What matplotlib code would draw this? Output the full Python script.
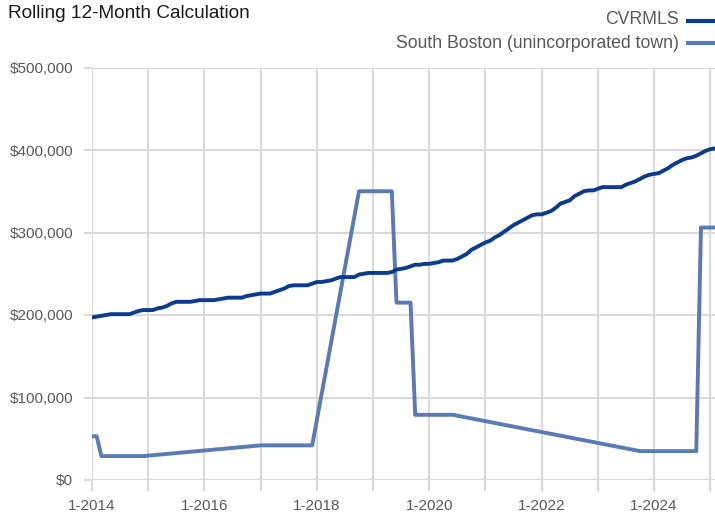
import matplotlib
matplotlib.use("Agg")
import matplotlib.pyplot as plt
from matplotlib.lines import Line2D
from matplotlib.ticker import FuncFormatter, MultipleLocator

plt.rcParams['font.family'] = ['Liberation Sans', 'DejaVu Sans']

title = "Rolling 12-Month Calculation"
series_names = ["CVRMLS", "South Boston (unincorporated town)"]
start_year = 2014

# CVRMLS monthly values (thousands $), Jan 2014 .. Feb 2025
cvrmls = [
    197, 198, 199, 200, 201, 201, 201, 201, 201, 203, 205, 206,   # 2014
    206, 206, 208, 209, 211, 214, 216, 216, 216, 216, 217, 218,   # 2015
    218, 218, 218, 219, 220, 221, 221, 221, 221, 223, 224, 225,   # 2016
    226, 226, 226, 228, 230, 232, 235, 236, 236, 236, 236, 238,   # 2017
    240, 240, 241, 242, 244, 246, 246, 246, 246, 249, 250, 251,   # 2018
    251, 251, 251, 251, 252, 255, 256, 257, 259, 261, 261, 262,   # 2019
    262, 263, 264, 266, 266, 266, 268, 271, 274, 279, 282, 285,   # 2020
    288, 290, 294, 297, 301, 305, 309, 312, 315, 318, 321, 322,   # 2021
    322, 324, 326, 330, 335, 337, 339, 344, 347, 350, 351, 351,   # 2022
    353, 355, 355, 355, 355, 355, 358, 360, 362, 365, 368, 370,   # 2023
    371, 372, 375, 378, 382, 385, 388, 390, 391, 393, 396, 399,   # 2024
    401, 402,                                                     # 2025
]

# South Boston: months with reported values (YYYY-MM, thousands $)
sb_dates = ["2014-01", "2014-02", "2014-03", "2014-12", "2017-01", "2017-12",
            "2018-10", "2019-05", "2019-06", "2019-09", "2019-10", "2020-06",
            "2023-10", "2024-10", "2024-11", "2025-02"]
sb_values = [53, 53, 29, 29, 42, 42,
             350, 350, 215, 215, 79, 79,
             35, 35, 306, 306]

def month_index(s):
    y, m = s.split("-")
    return (int(y) - start_year) * 12 + int(m) - 1

cv_x = list(range(len(cvrmls)))
cv_y = [v * 1000 for v in cvrmls]
sb_x = [month_index(d) for d in sb_dates]
sb_y = [v * 1000 for v in sb_values]

W, H = 715, 515
fig = plt.figure(figsize=(W / 100, H / 100), dpi=100)
ax = fig.add_axes([92 / W, (H - 480) / H, (715 - 92) / W, (480 - 67.5) / H])

c_cv = "#0b3a8e"
c_sb = "#5a7ab5"
grid_c = "#d9d9d9"
text_c = "#595959"

ax.plot(cv_x, cv_y, color=c_cv, lw=2.8, solid_joinstyle="round", zorder=3)
ax.plot(sb_x, sb_y, color=c_sb, lw=2.8, solid_joinstyle="round", zorder=2)

ax.set_xlim(0, len(cvrmls) - 1)
ax.set_ylim(0, 500000)

ax.xaxis.set_major_locator(MultipleLocator(24))
ax.xaxis.set_minor_locator(MultipleLocator(12))
ax.xaxis.set_major_formatter(FuncFormatter(lambda v, p: f"1-{start_year + int(round(v)) // 12}"))
ax.yaxis.set_major_locator(MultipleLocator(100000))
ax.yaxis.set_major_formatter(FuncFormatter(lambda v, p: f"${v:,.0f}"))

ax.grid(True, which="both", axis="x", color=grid_c, lw=1.5)
ax.grid(True, which="major", axis="y", color=grid_c, lw=1.5)
ax.set_axisbelow(True)
for s in ax.spines.values():
    s.set_visible(False)
ax.tick_params(axis="x", which="both", length=8, width=1.5, color=grid_c,
               labelcolor=text_c, labelsize=11, pad=6)
ax.tick_params(axis="y", which="both", length=6, width=1.5, color=grid_c,
               labelcolor=text_c, labelsize=11, pad=7.5)

fig.text(8 / W, 1 - 13.5 / H, title, fontsize=13.7, color="#1a1a1a", ha="left", va="center")

for i, (name, col) in enumerate(zip(series_names, [c_cv, c_sb])):
    yy = 1 - (20 + 24 * i) / H
    fig.text(679 / W, yy, name, fontsize=12.7, color=text_c, ha="right", va="center")
    fig.add_artist(Line2D([688 / W, 715 / W], [1 - (21 + 22 * i) / H] * 2, color=col, lw=3,
                          transform=fig.transFigure))

fig.savefig("out.png", dpi=100)
